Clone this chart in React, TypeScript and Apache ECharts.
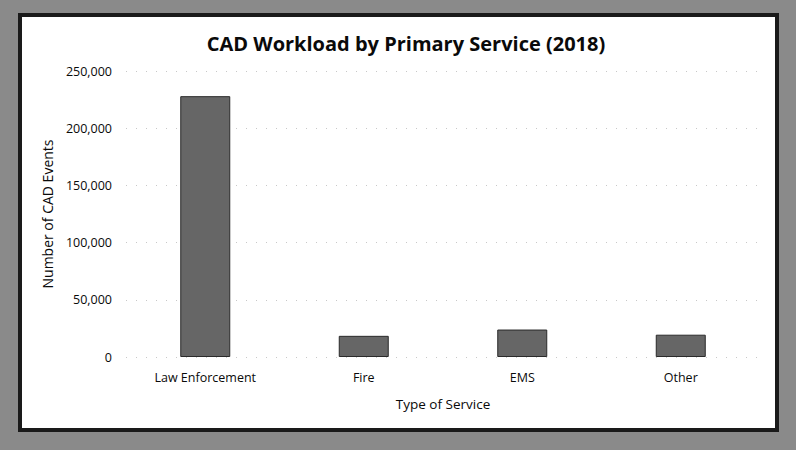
import React, { useEffect, useRef } from "react";
import * as echarts from "echarts";

const categories = ["Law Enforcement", "Fire", "EMS", "Other"];
const events = [228000, 18500, 24000, 19500];
const yTicks = [0, 50000, 100000, 150000, 200000, 250000];
const titleText = "CAD Workload by Primary Service (2018)";
const xAxisName = "Type of Service";
const yAxisName = "Number of CAD Events";

export default function App() {
  const ref = useRef<HTMLDivElement>(null);
  useEffect(() => {
    if (!ref.current) return;
    const chart = echarts.init(ref.current, null, { renderer: "svg" });
    const font = "'Open Sans', 'Noto Sans', sans-serif";
    chart.setOption({
      animation: false,
      backgroundColor: "#ffffff",
      graphic: [
        {
          type: "rect",
          z: -10,
          silent: true,
          shape: { x: 0, y: 0, width: 796, height: 450 },
          style: { fill: "#8a8a8a" },
        },
        {
          type: "rect",
          z: -9,
          silent: true,
          shape: { x: 20, y: 15, width: 757, height: 415 },
          style: { fill: "#ffffff", stroke: "#1a1a1a", lineWidth: 4 },
        },
      ],
      title: {
        text: titleText,
        left: 401,
        textAlign: "center",
        top: 28,
        textStyle: { fontFamily: font, fontSize: 20, fontWeight: "bold", color: "#0a0a0a" },
      },
      grid: { left: 126, right: 36, top: 71, bottom: 93, containLabel: false },
      xAxis: {
        type: "category",
        data: categories,
        name: xAxisName,
        nameLocation: "middle",
        nameGap: 40,
        nameTextStyle: { fontFamily: font, fontSize: 13.5, color: "#0a0a0a" },
        axisLine: { show: false },
        axisTick: { show: false },
        axisLabel: { fontFamily: font, fontSize: 12.5, color: "#0a0a0a", margin: 14 },
      },
      yAxis: {
        type: "value",
        min: 0,
        max: 250000,
        interval: 50000,
        name: yAxisName,
        nameLocation: "middle",
        nameGap: 72,
        nameTextStyle: { fontFamily: font, fontSize: 14, color: "#0a0a0a" },
        axisLine: { show: false },
        axisTick: { show: false },
        axisLabel: {
          fontFamily: font,
          fontSize: 12.5,
          color: "#0a0a0a",
          margin: 14,
          formatter: (v: number) => (yTicks.includes(v) ? v.toLocaleString("en-US") : ""),
        },
        splitLine: { lineStyle: { color: "#c8c8c8", type: [1, 9], width: 1 } },
      },
      series: [
        {
          type: "bar",
          data: events,
          barWidth: 50,
          itemStyle: { color: "#666666", borderColor: "#2a2a2a", borderWidth: 1 },
        },
      ],
    });
    return () => chart.dispose();
  }, []);
  return (
    <div
      ref={ref}
      style={{ position: "fixed", left: 0, top: 0, width: 796, height: 450 }}
    />
  );
}
